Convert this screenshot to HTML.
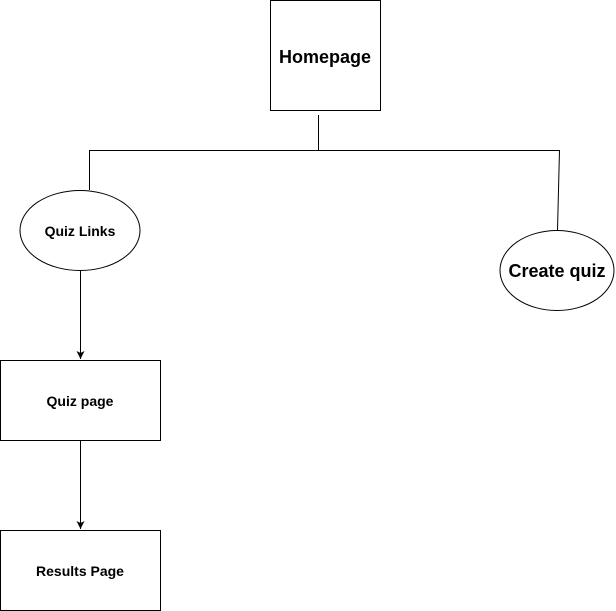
<!DOCTYPE html>
<html><head><style>body{margin:0;background:#fff}svg{display:block}</style></head>
<body>
<svg width="616" height="611" xmlns="http://www.w3.org/2000/svg" font-family="Liberation Sans, sans-serif" font-weight="bold">
<defs><marker id="a" markerWidth="10" markerHeight="10" refX="8" refY="4" orient="auto" markerUnits="userSpaceOnUse"><path d="M0,0 L8,4 L0,8 L2,4 Z" fill="#000"/></marker></defs>
<g stroke="#000" stroke-width="1" fill="#fff">
<rect x="270.5" y="0.5" width="110" height="110"/>
<line x1="318.5" y1="115" x2="318.5" y2="150.5"/>
<line x1="89.5" y1="150.5" x2="559.5" y2="150.5"/>
<line x1="89.5" y1="150" x2="89.5" y2="190"/>
<line x1="559.5" y1="150" x2="557.5" y2="230"/>
<ellipse cx="80" cy="230.5" rx="60" ry="40"/>
<ellipse cx="557" cy="270.5" rx="57" ry="40"/>
<line x1="80.5" y1="271" x2="80.5" y2="359" marker-end="url(#a)"/>
<rect x="0.5" y="360.5" width="160" height="80"/>
<line x1="80.5" y1="441" x2="80.5" y2="529" marker-end="url(#a)"/>
<rect x="0.5" y="530.5" width="160" height="80"/>
</g>
<g text-anchor="middle" fill="#000">
<text x="325" y="63" font-size="18">Homepage</text>
<text x="80" y="236" font-size="14">Quiz Links</text>
<text x="557" y="277" font-size="18">Create quiz</text>
<text x="80" y="406" font-size="14">Quiz page</text>
<text x="80" y="576" font-size="14">Results Page</text>
</g>
</svg>
</body></html>
